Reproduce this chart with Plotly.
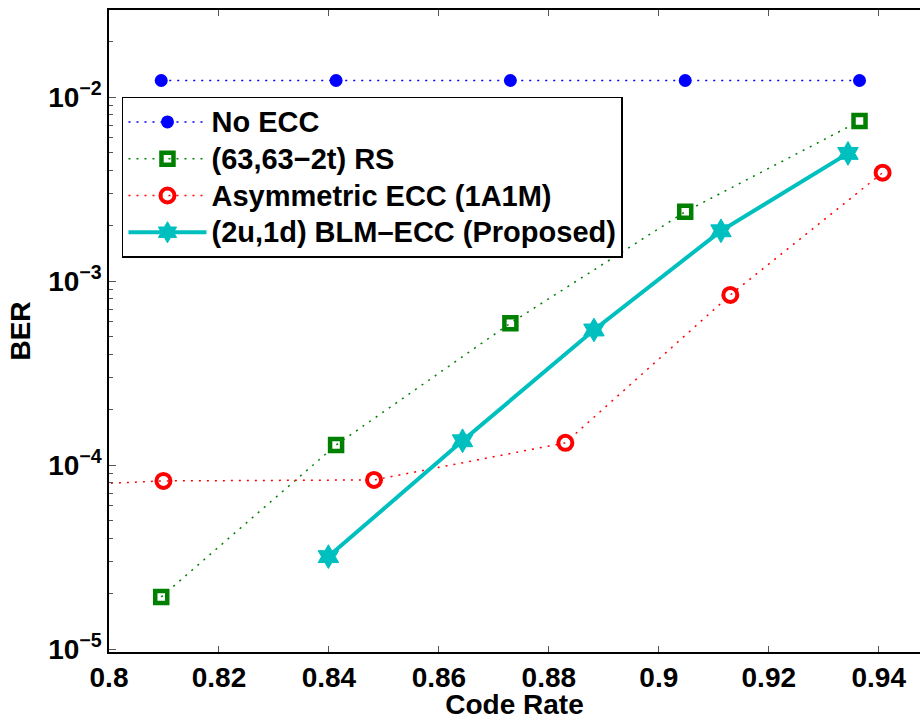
import plotly.graph_objects as go

# ---- data ----
code_rate_rs = [0.8095, 0.8413, 0.8730, 0.9048, 0.9365]
ber_no_ecc = [0.0123, 0.0123, 0.0123, 0.0123, 0.0123]
ber_rs = [1.92e-5, 1.285e-4, 5.90e-4, 2.38e-3, 7.40e-3]
code_rate_asym = [0.7800, 0.8099, 0.8482, 0.8830, 0.9130, 0.9407]
ber_asym = [7.5e-5, 8.2e-5, 8.3e-5, 1.32e-4, 8.4e-4, 3.88e-3]
code_rate_blm = [0.8399, 0.8643, 0.8882, 0.9113, 0.9344]
ber_blm = [3.18e-5, 1.355e-4, 5.42e-4, 1.875e-3, 4.94e-3]

names = ["No ECC", "(63,63\u22122t) RS", "Asymmetric ECC (1A1M)",
         "(2u,1d) BLM\u2013ECC (Proposed)"]

x_ticks = [0.80, 0.82, 0.84, 0.86, 0.88, 0.90, 0.92, 0.94]
x_ticktext = ["0.8", "0.82", "0.84", "0.86", "0.88", "0.9", "0.92", "0.94"]
y_ticks = [1e-5, 1e-4, 1e-3, 1e-2]
y_ticktext = ["10<sup>\u22125</sup>", "10<sup>\u22124</sup>",
              "10<sup>\u22123</sup>", "10<sup>\u22122</sup>"]

FONT = "Liberation Sans, Arial, Helvetica, sans-serif"
DOT = "2px,6px"


def leg(name):
    # larger glyphs in the legend while keeping MATLAB-like compact rows
    return '<span style="font-size:29px">' + name + '</span>'


fig = go.Figure()
fig.add_trace(go.Scatter(
    x=code_rate_rs, y=ber_no_ecc, name=leg(names[0]), mode="lines+markers",
    line=dict(color="#0000FF", width=1.5, dash=DOT),
    marker=dict(symbol="circle", size=13, color="#0000FF")))
fig.add_trace(go.Scatter(
    x=code_rate_rs, y=ber_rs, name=leg(names[1]), mode="lines+markers",
    line=dict(color="#008000", width=1.5, dash=DOT),
    marker=dict(symbol="square-open", size=12, color="#008000",
                line=dict(color="#008000", width=4.5))))
fig.add_trace(go.Scatter(
    x=code_rate_asym, y=ber_asym, name=leg(names[2]), mode="lines+markers",
    line=dict(color="#FF0000", width=1.5, dash=DOT),
    marker=dict(symbol="circle-open", size=14, color="#FF0000",
                line=dict(color="#FF0000", width=4))))
fig.add_trace(go.Scatter(
    x=code_rate_blm, y=ber_blm, name=leg(names[3]), mode="lines+markers",
    line=dict(color="#00BFBF", width=4),
    marker=dict(symbol="hexagram", size=18, color="#00BFBF",
                line=dict(color="#00BFBF", width=1))))

fig.update_layout(
    width=920, height=720,
    margin=dict(l=109, r=0, t=10, b=68, autoexpand=False),
    paper_bgcolor="white", plot_bgcolor="white",
    font=dict(family=FONT, size=28, color="black", weight="bold"),
    showlegend=True,
    legend=dict(
        x=0.016, y=0.8645, xanchor="left", yanchor="top",
        bgcolor="white", bordercolor="black", borderwidth=1.5,
        font=dict(family=FONT, size=26, color="black", weight="bold"),
        itemwidth=78, tracegroupgap=0,
    ),
    xaxis=dict(
        range=[0.8, 0.9475], tickvals=x_ticks, ticktext=x_ticktext,
        ticks="inside", ticklen=6, tickcolor="#555555", tickwidth=1,
        showline=True, linecolor="black", linewidth=1.5, mirror="ticks",
        showgrid=False, zeroline=False, automargin=False,
        tickfont=dict(family=FONT, size=28, color="black", weight="bold"),
        title=dict(text="Code Rate", standoff=7,
                   font=dict(family=FONT, size=28, color="black", weight="bold")),
    ),
    yaxis=dict(
        type="log", range=[-5.016, -1.527],
        tickvals=y_ticks, ticktext=y_ticktext,
        ticks="inside", ticklen=7, tickcolor="#555555", tickwidth=1,
        showline=True, linecolor="black", linewidth=1.5, mirror=False,
        showgrid=False, zeroline=False, automargin=False,
        minor=dict(ticks="inside", ticklen=4, tickcolor="#555555",
                   dtick="D1", showgrid=False),
        tickfont=dict(family=FONT, size=28, color="black", weight="bold"),
        title=dict(text="BER", standoff=9,
                   font=dict(family=FONT, size=28, color="black", weight="bold")),
    ),
)

fig.write_html("out.html",
               config={"displayModeBar": False},
               post_script="document.body.style.margin='0';"
                           "document.body.style.overflow='hidden';")
